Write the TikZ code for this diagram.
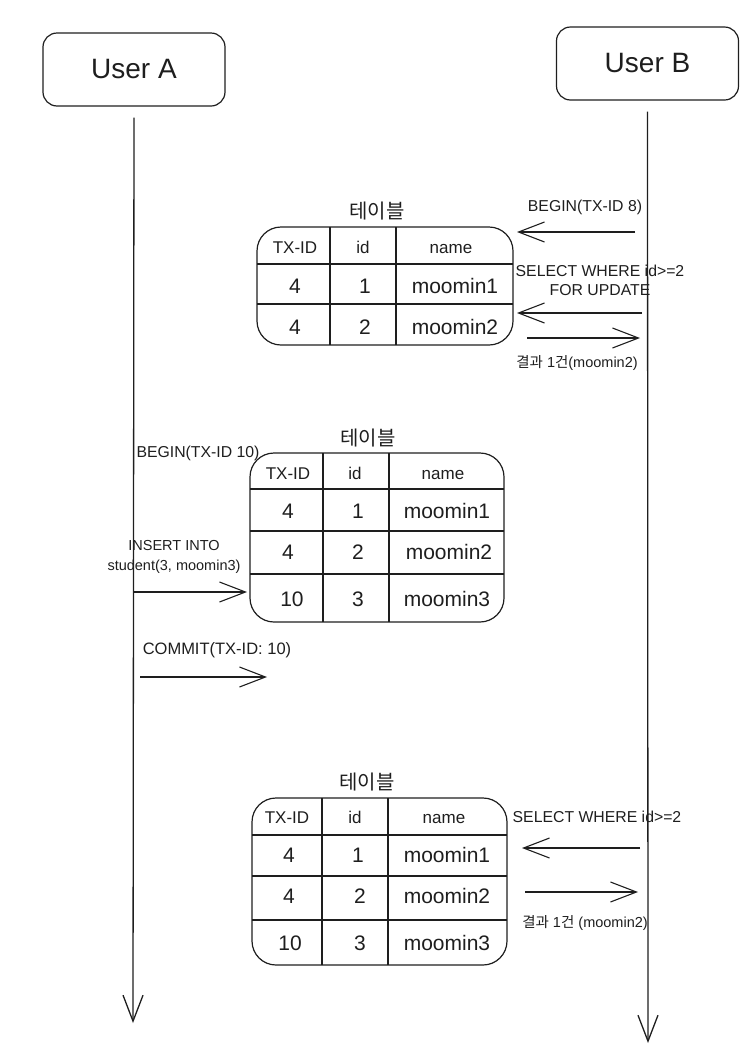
\documentclass[tikz,border=0pt]{standalone}
\usepackage{fontspec}
\setmainfont{Liberation Sans}
\newfontfamily\kr{Noto Sans CJK KR}
\usetikzlibrary{arrows.meta}
\definecolor{ink}{HTML}{1E1E1E}
\begin{document}
\begin{tikzpicture}[x=1pt,y=-1pt,
  every node/.style={text=ink, inner sep=0pt},
  actor/.style={draw=ink, line width=1.2pt, rounded corners=14pt, minimum width=182pt, minimum height=73pt, font=\fontsize{28}{32}\selectfont},
  tbl/.style={draw=ink, line width=1.2pt, rounded corners=24pt},
  tline/.style={draw=ink, line width=1.1pt},
  hd/.style={font=\fontsize{17}{20}\selectfont, text height=16.5pt, text depth=4.25pt},
  cell/.style={font=\fontsize{21}{24}\selectfont, text height=20.4pt, text depth=5.25pt},
  ttl/.style={font=\kr\fontsize{20}{24}\selectfont},
  lbl/.style={font=\fontsize{15.8}{19}\selectfont, align=center},
  msg/.style={draw=ink, line width=1.1pt, -{Straight Barb[length=26pt,width=20pt]}},
  life/.style={draw=ink, line width=1.3pt, -{Straight Barb[length=26pt,width=20pt]}}
]
\useasboundingbox (0,0) rectangle (752,1058);

% actors
\node[actor] (ua) at (134,69.5) {User A};
\node[actor] (ub) at (647.5,63.5) {User B};
\coordinate (aend) at (133,1023);
\coordinate (bend) at (648,1043);
\draw[life, shorten <=11pt] (ua.south) -- (aend);
\draw[life, shorten <=11pt] (ub.south) -- (bend);

% ---------- table 1 ----------
\node[ttl] (tt1) at (377,211) {테이블};
\node[tbl, minimum width=256pt, minimum height=118pt] (t1) at (385,286) {};
\draw[tline] (330,227) -- (330,345);
\draw[tline] (396,227) -- (396,345);
\draw[tline] (257,264) -- (513,264);
\draw[tline] (257,304) -- (513,304);
\node[hd] (t1h1) at (295,247) {TX-ID};
\node[hd] (t1h2) at (363,247) {id};
\node[hd] (t1h3) at (451,247) {name};
\node[cell] (t1a1) at (295,286) {4};
\node[cell] (t1a2) at (365,286) {1};
\node[cell] (t1a3) at (455,286) {moomin1};
\node[cell] (t1b1) at (295,327) {4};
\node[cell] (t1b2) at (365,327) {2};
\node[cell] (t1b3) at (455,327) {moomin2};

\node[lbl] (l1) at (585,207) {BEGIN(TX-ID 8)};
\coordinate (m1s) at (635,232);
\coordinate (m1e) at (517,232);
\draw[msg] (m1s) -- (m1e);
\node[lbl] (l2) at (600,280) {SELECT WHERE id>=2\\FOR UPDATE};
\coordinate (m2s) at (642,313);
\coordinate (m2e) at (517,313);
\draw[msg] (m2s) -- (m2e);
\coordinate (m3s) at (527,338);
\coordinate (m3e) at (640,338);
\draw[msg] (m3s) -- (m3e);
\node[lbl, font=\fontsize{14.5}{18}\selectfont] (l3) at (577,363) {{\kr 결과} 1{\kr 건}(moomin2)};

% ---------- table 2 ----------
\node[ttl] (tt2) at (368,438) {테이블};
\node[tbl, minimum width=254pt, minimum height=169pt] (t2) at (377,537.5) {};
\draw[tline] (323,453) -- (323,622);
\draw[tline] (389,453) -- (389,622);
\draw[tline] (250,489) -- (504,489);
\draw[tline] (250,531) -- (504,531);
\draw[tline] (250,574) -- (504,574);
\node[hd] (t2h1) at (288,473) {TX-ID};
\node[hd] (t2h2) at (355,473) {id};
\node[hd] (t2h3) at (443,473) {name};
\node[cell] (t2a1) at (288,511) {4};
\node[cell] (t2a2) at (358,511) {1};
\node[cell] (t2a3) at (447,511) {moomin1};
\node[cell] (t2b1) at (288,552) {4};
\node[cell] (t2b2) at (358,552) {2};
\node[cell] (t2b3) at (449,552) {moomin2};
\node[cell] (t2c1) at (292,599) {10};
\node[cell] (t2c2) at (358,599) {3};
\node[cell] (t2c3) at (447,599) {moomin3};

\node[lbl] (l4) at (198,453) {BEGIN(TX-ID 10)};
\node[lbl, font=\fontsize{14.5}{20}\selectfont] (l5) at (174,557) {INSERT INTO\\student(3, moomin3)};
\coordinate (m4s) at (133,592);
\coordinate (m4e) at (247,592);
\draw[msg] (m4s) -- (m4e);
\node[lbl, font=\fontsize{16.5}{20}\selectfont] (l6) at (217,650) {COMMIT(TX-ID: 10)};
\coordinate (m5s) at (140,677);
\coordinate (m5e) at (267,677);
\draw[msg] (m5s) -- (m5e);

% ---------- table 3 ----------
\node[ttl] (tt3) at (367,782) {테이블};
\node[tbl, minimum width=255pt, minimum height=167pt] (t3) at (379.5,881.5) {};
\draw[tline] (322,798) -- (322,965);
\draw[tline] (388,798) -- (388,965);
\draw[tline] (252,835) -- (507,835);
\draw[tline] (252,876) -- (507,876);
\draw[tline] (252,920) -- (507,920);
\node[hd] (t3h1) at (287,817) {TX-ID};
\node[hd] (t3h2) at (355,817) {id};
\node[hd] (t3h3) at (444,817) {name};
\node[cell] (t3a1) at (289,855) {4};
\node[cell] (t3a2) at (358,855) {1};
\node[cell] (t3a3) at (447,855) {moomin1};
\node[cell] (t3b1) at (289,896) {4};
\node[cell] (t3b2) at (360,896) {2};
\node[cell] (t3b3) at (447,896) {moomin2};
\node[cell] (t3c1) at (290,943) {10};
\node[cell] (t3c2) at (360,943) {3};
\node[cell] (t3c3) at (447,943) {moomin3};

\node[lbl] (l7) at (597,817) {SELECT WHERE id>=2};
\coordinate (m6s) at (640,848);
\coordinate (m6e) at (522,848);
\draw[msg] (m6s) -- (m6e);
\coordinate (m7s) at (525,892);
\coordinate (m7e) at (638,892);
\draw[msg] (m7s) -- (m7e);
\node[lbl, font=\fontsize{14.5}{18}\selectfont] (l8) at (585,923) {{\kr 결과} 1{\kr 건} (moomin2)};
\end{tikzpicture}
\end{document}
